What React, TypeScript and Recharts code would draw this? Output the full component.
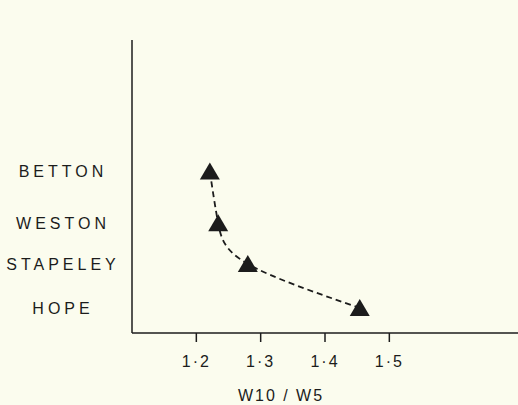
import { ComposedChart, Line, XAxis, YAxis } from "recharts";

const sites = ["BETTON", "WESTON", "STAPELEY", "HOPE"];
const ratios = [1.221, 1.234, 1.28, 1.454];
const levels = [3.86, 2.62, 1.65, 0.6];
const xTicks = [1.2, 1.3, 1.4, 1.5];

const data = sites.map((s, i) => ({ site: s, ratio: ratios[i], level: levels[i] }));

const ink = "#1c1c1c";
const font = "'Liberation Sans', Arial, sans-serif";

function Triangle(props: any) {
  const { cx, cy } = props;
  if (cx == null || cy == null) return null;
  return <polygon points={`${cx},${cy - 9} ${cx - 10},${cy + 8} ${cx + 10},${cy + 8}`} fill={ink} />;
}

function SiteTick(props: any) {
  const { x, y, payload } = props;
  const i = levels.indexOf(payload.value);
  return (
    <text x={x - 61} y={y} dy="0.36em" textAnchor="middle" fill={ink} fontSize={16} fontFamily={font} letterSpacing={4}>
      {sites[i]}
    </text>
  );
}

export default function App() {
  return (
    <div style={{ position: "fixed", left: 0, top: 0, width: 518, height: 405, background: "#fbfcee" }}>
      <ComposedChart width={518} height={405} data={data} margin={{ top: 40, right: 0, bottom: 0, left: 0 }}>
        <XAxis
          type="number"
          dataKey="ratio"
          domain={[1.1, 1.7]}
          ticks={xTicks}
          height={72}
          stroke={ink}
          strokeWidth={1.5}
          tickSize={9}
          tickMargin={14}
          tick={{ fill: ink, fontSize: 16, fontFamily: font, letterSpacing: 2 }}
          tickFormatter={(v: number) => v.toFixed(1).replace(".", "·")}
          label={{ value: "W10 / W5", position: "insideBottom", dx: -44, dy: 1, fill: ink, fontSize: 16, fontFamily: font, letterSpacing: 2 }}
        />
        <YAxis
          type="number"
          dataKey="level"
          domain={[0, 7]}
          ticks={levels}
          width={132}
          stroke={ink}
          strokeWidth={1.5}
          tickLine={false}
          tick={<SiteTick />}
        />
        <Line
          type="natural"
          dataKey="level"
          stroke={ink}
          strokeWidth={1.8}
          strokeDasharray="6 4"
          dot={<Triangle />}
          activeDot={false}
          isAnimationActive={false}
        />
      </ComposedChart>
    </div>
  );
}
